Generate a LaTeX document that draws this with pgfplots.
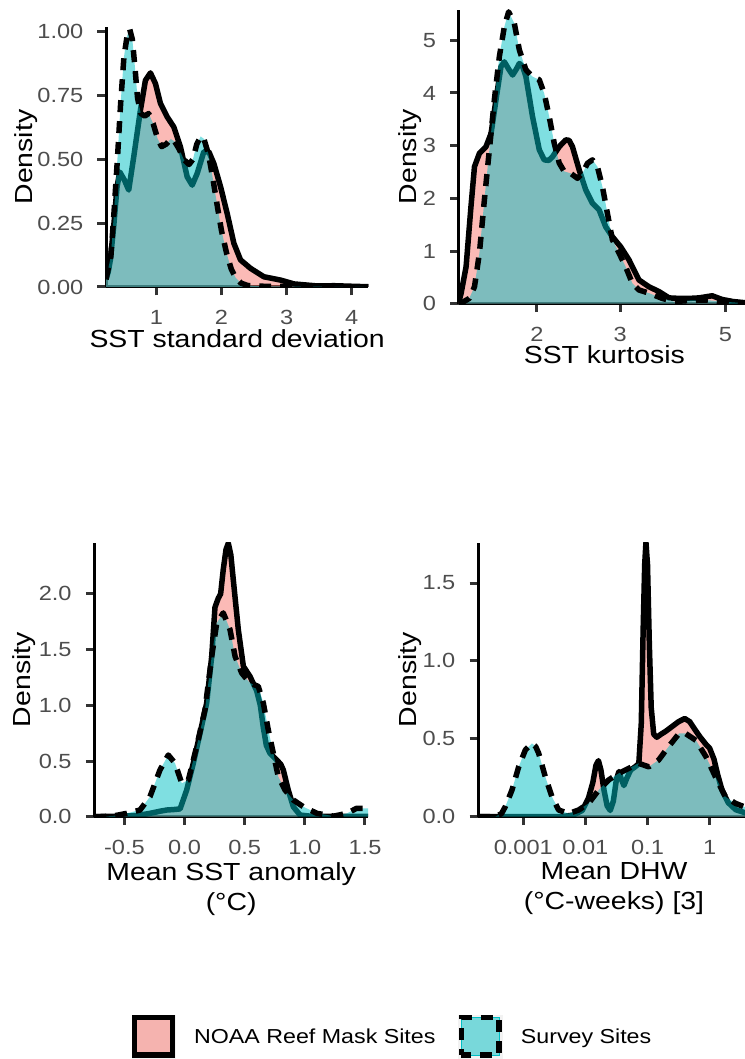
\documentclass[border=0pt]{standalone}
\usepackage{pgfplots}
\pgfplotsset{compat=1.18}
\usepackage{fontspec}
\setmainfont{Liberation Sans}[FakeStretch=1.15]
\definecolor{pinkc}{HTML}{F8766D}
\definecolor{cyanc}{HTML}{00BFC4}
\definecolor{gray30}{HTML}{4D4D4D}
\definecolor{gray20}{HTML}{333333}
\definecolor{gray95}{HTML}{F2F2F2}
\newcommand{\ttl}{\fontsize{24.7pt}{30pt}\selectfont}
\newcommand{\tck}{\fontsize{20.5pt}{24.5pt}\selectfont}

\pgfplotsset{
 dens/.style={
   scale only axis, clip=true,
   axis x line*=bottom, axis y line*=left,
   tick align=outside, major tick length=8.5pt,
   xtick style={draw=gray20, line width=3pt},
   ytick style={draw=gray20, line width=3pt},
   axis line style={line width=3pt, -, black},
   minor tick num=0,
   xticklabel style={font=\tck, text=gray30, anchor=base, inner sep=0pt, yshift=-29pt},
   yticklabel style={font=\tck, text=gray30, anchor=east, inner sep=0pt, xshift=-14pt},
   xlabel style={at={(axis description cs:0.5,0)}, anchor=north, inner sep=0pt, font=\ttl, align=center},
   every axis y label/.style={rotate=90, anchor=base, inner sep=0pt, font=\ttl},
   ylabel=Density,
 },
 noaafill/.style={fill=pinkc, fill opacity=0.5, draw=none, forget plot},
 noaaline/.style={black, line width=5.5pt, line join=round, forget plot},
 survfill/.style={fill=cyanc, fill opacity=0.5, draw=none, forget plot},
 survline/.style={black, line width=5.5pt, line join=round, dash pattern=on 12pt off 9pt, forget plot},
}

\pgfplotstableread{
x y
0.225 0.03
0.26 0.06
0.292 0.106
0.343 0.236
0.395 0.393
0.436 0.451
0.508 0.419
0.574 0.380
0.651 0.51
0.754 0.693
0.831 0.81
0.908 0.839
0.985 0.797
1.062 0.719
1.164 0.667
1.267 0.627
1.369 0.549
1.472 0.432
1.549 0.399
1.626 0.445
1.728 0.53
1.805 0.53
1.882 0.484
1.985 0.393
2.087 0.288
2.19 0.171
2.292 0.106
2.446 0.073
2.651 0.04
2.908 0.027
3.113 0.012
3.47 0.004
3.73 0.005
3.98 0.003
4.255 0.001
}\sdNoaa

\pgfplotstableread{
x y
0.225 0.03
0.30 0.12
0.35 0.30
0.40 0.50
0.45 0.72
0.50 0.90
0.55 0.985
0.59 1.01
0.63 0.97
0.67 0.86
0.71 0.74
0.76 0.68
0.82 0.67
0.88 0.68
0.95 0.64
1.02 0.58
1.08 0.55
1.15 0.56
1.22 0.58
1.28 0.57
1.35 0.54
1.42 0.50
1.50 0.48
1.56 0.50
1.62 0.56
1.68 0.59
1.73 0.58
1.80 0.52
1.87 0.42
1.94 0.31
2.00 0.22
2.08 0.13
2.15 0.07
2.22 0.035
2.30 0.015
2.40 0.006
2.60 0.003
3.00 0.002
3.50 0.001
4.255 0.0005
}\sdSurv

\pgfplotstableread{
x y
1.368 0.02
1.384 0.197
1.418 0.70
1.452 1.84
1.477 2.60
1.513 2.855
1.562 2.98
1.601 3.23
1.640 3.87
1.680 4.50
1.708 4.59
1.745 4.45
1.778 4.34
1.810 4.45
1.837 4.56
1.867 4.50
1.897 4.31
1.959 3.55
2.024 2.92
2.073 2.73
2.120 2.72
2.159 2.79
2.230 2.98
2.302 3.11
2.340 3.10
2.378 2.98
2.457 2.54
2.537 2.16
2.621 1.905
2.707 1.78
2.795 1.46
2.888 1.27
3.006 1.08
3.131 0.83
3.286 0.45
3.451 0.32
3.622 0.23
3.802 0.11
4.000 0.10
4.188 0.10
4.400 0.11
4.540 0.13
4.690 0.15
4.922 0.08
5.200 0.04
5.48 0.02
5.637 0.01
}\kuNoaa

\pgfplotstableread{
x y
1.368 0.0
1.39 0.02
1.44 0.10
1.477 0.32
1.513 0.96
1.550 1.97
1.588 2.92
1.627 3.87
1.667 4.69
1.708 5.26
1.744 5.54
1.793 5.32
1.837 4.82
1.897 4.44
1.959 4.31
2.024 4.25
2.073 3.99
2.124 3.55
2.177 3.04
2.230 2.67
2.285 2.51
2.358 2.475
2.436 2.38
2.497 2.475
2.558 2.665
2.621 2.73
2.685 2.60
2.751 2.22
2.818 1.72
2.888 1.21
2.983 0.96
3.080 0.70
3.181 0.39
3.286 0.26
3.451 0.20
3.68 0.10
3.90 0.04
4.19 0.06
4.54 0.07
4.92 0.04
5.48 0.01
5.637 0.005
}\kuSurv

\pgfplotstableread{
x y
-0.75 0.0
-0.60 0.003
-0.508 0.005
-0.40 0.01
-0.287 0.03
-0.20 0.05
-0.148 0.06
-0.08 0.065
-0.037 0.07
0.018 0.24
0.073 0.48
0.129 0.75
0.184 1.02
0.226 1.44
0.253 1.88
0.280 1.96
0.300 2.00
0.322 2.22
0.345 2.40
0.364 2.455
0.385 2.35
0.405 2.13
0.447 1.68
0.489 1.35
0.544 1.26
0.60 1.13
0.63 1.00
0.655 0.80
0.68 0.64
0.71 0.57
0.766 0.51
0.800 0.47
0.821 0.42
0.862 0.24
0.904 0.09
0.96 0.015
1.05 0.004
1.2 0.002
1.4 0.002
1.525 0.002
}\anNoaa

\pgfplotstableread{
x y
-0.75 0.0
-0.60 0.005
-0.48 0.03
-0.37 0.06
-0.287 0.18
-0.204 0.42
-0.135 0.554
-0.079 0.48
-0.023 0.30
0.032 0.33
0.101 0.63
0.17 0.96
0.226 1.44
0.268 1.74
0.322 1.83
0.378 1.68
0.42 1.44
0.475 1.29
0.544 1.20
0.613 1.17
0.655 1.02
0.696 0.78
0.738 0.57
0.779 0.36
0.835 0.24
0.904 0.15
0.987 0.09
1.10 0.03
1.24 0.005
1.35 0.03
1.43 0.075
1.525 0.075
}\anSurv

\pgfplotstableread{
x y
-3.729 0.0
-3.0 0.0
-2.4 0.0
-2.2 0.01
-2.05 0.04
-1.95 0.12
-1.88 0.22
-1.83 0.33
-1.79 0.36
-1.75 0.30
-1.70 0.17
-1.65 0.07
-1.60 0.04
-1.55 0.10
-1.50 0.24
-1.46 0.29
-1.42 0.24
-1.38 0.20
-1.33 0.25
-1.27 0.30
-1.20 0.32
-1.14 0.34
-1.10 0.60
-1.07 1.20
-1.045 1.62
-1.025 1.76
-1.00 1.62
-0.97 1.10
-0.94 0.70
-0.90 0.53
-0.85 0.51
-0.78 0.53
-0.70 0.55
-0.60 0.58
-0.50 0.61
-0.40 0.63
-0.32 0.61
-0.22 0.55
-0.15 0.51
-0.05 0.46
0.00 0.44
0.07 0.37
0.13 0.27
0.20 0.17
0.30 0.09
0.42 0.045
0.65 0.015
}\dhNoaa

\pgfplotstableread{
x y
-3.729 0.0
-3.45 0.0
-3.35 0.02
-3.29 0.064
-3.182 0.171
-3.074 0.32
-2.967 0.428
-2.86 0.471
-2.80 0.45
-2.752 0.407
-2.646 0.257
-2.538 0.128
-2.43 0.043
-2.27 0.02
-2.108 0.043
-1.947 0.086
-1.786 0.171
-1.625 0.236
-1.464 0.278
-1.303 0.31
-1.143 0.343
-0.98 0.32
-0.82 0.364
-0.66 0.45
-0.49 0.535
-0.391 0.535
-0.22 0.49
-0.058 0.385
0.093 0.257
0.255 0.128
0.415 0.086
0.555 0.064
0.65 0.05
}\dhSurv

\begin{document}
\begin{tikzpicture}
\path[use as bounding box] (0,0) rectangle (744pt,1059pt);

% Panel 1
\begin{axis}[dens, at={(106pt,772pt)}, anchor=south west, width=262.3pt, height=260pt,
  xmin=0.225, xmax=4.255, ymin=0, ymax=1.019,
  xtick={1,2,3,4}, xticklabels={1,2,3,4},
  ytick={0,0.25,0.5,0.75,1}, yticklabels={0.00,0.25,0.50,0.75,1.00},
  xlabel={SST standard deviation}, xlabel style={yshift=-42pt},
  ylabel style={at={([xshift=-73.3pt]axis description cs:0,0.5)}}]
\addplot[noaafill] table {\sdNoaa} \closedcycle;
\addplot[noaaline] table {\sdNoaa};
\addplot[survfill] table {\sdSurv} \closedcycle;
\addplot[survline] table {\sdSurv};
\end{axis}

% Panel 2
\begin{axis}[dens, at={(458.7pt,755.3pt)}, anchor=south west, width=291.3pt, height=293.7pt,
  xmode=log, xmin=1.368, xmax=5.637, ymin=0, ymax=5.575, xminorticks=false,
  xtick={2,3,5}, xticklabels={2,3,5},
  ytick={0,1,2,3,4,5}, yticklabels={0,1,2,3,4,5},
  xlabel={SST kurtosis}, xlabel style={yshift=-42pt},
  ylabel style={at={([xshift=-42.3pt]axis description cs:0,0.5)}}]
\addplot[noaafill] table {\kuNoaa} \closedcycle;
\addplot[noaaline] table {\kuNoaa};
\addplot[survfill] table {\kuSurv} \closedcycle;
\addplot[survline] table {\kuSurv};
\end{axis}

% Panel 3
\begin{axis}[dens, at={(94.3pt,242.3pt)}, anchor=south west, width=273.7pt, height=274pt,
  xmin=-0.75, xmax=1.525, ymin=0, ymax=2.46,
  xtick={-0.5,0,0.5,1,1.5}, xticklabels={-0.5,0.0,0.5,1.0,1.5},
  ytick={0,0.5,1,1.5,2}, yticklabels={0.0,0.5,1.0,1.5,2.0},
  xlabel={Mean SST anomaly\\(°C)}, xlabel style={yshift=-45.3pt},
  ylabel style={at={([xshift=-63.3pt]axis description cs:0,0.5)}},
  legend columns=2,
  legend style={at={(axis description cs:0.1366,-0.802)}, anchor=west, draw=none, fill=none,
    inner sep=0pt, outer sep=0pt, font=\fontsize{20.2pt}{24pt}\selectfont, column sep=16.7pt,
    /tikz/every even column/.append style={column sep=21pt}},
  legend cell align=left]
\addplot[noaafill] table {\anNoaa} \closedcycle;
\addplot[noaaline] table {\anNoaa};
\addplot[survfill] table {\anSurv} \closedcycle;
\addplot[survline] table {\anSurv};
\addlegendimage{legend image code/.code={
  \fill[gray95] (0pt,-21.5pt) rectangle (43.3pt,21.5pt);
  \fill[pinkc, fill opacity=0.5] (2.75pt,-18.75pt) rectangle (40.55pt,18.75pt);
  \draw[black, line width=5.5pt] (2.75pt,-18.75pt) rectangle (40.55pt,18.75pt);
}}
\addlegendentry{NOAA Reef Mask Sites}
\addlegendimage{legend image code/.code={
  \fill[gray95] (0pt,-21.5pt) rectangle (43.3pt,21.5pt);
  \fill[cyanc, fill opacity=0.5] (2.75pt,-18.75pt) rectangle (40.55pt,18.75pt);
  \draw[black, line width=5.5pt, dash pattern=on 12pt off 9pt, dash phase=6pt] (2.75pt,-18.75pt) rectangle (40.55pt,18.75pt);
}}
\addlegendentry{Survey Sites}
\end{axis}

% Panel 4
\begin{axis}[dens, at={(478pt,242.3pt)}, anchor=south west, width=272pt, height=274pt,
  xmin=-3.729, xmax=0.6506, ymin=0, ymax=1.759,
  xtick={-3,-2,-1,0}, xticklabels={0.001,0.01,0.1,1},
  ytick={0,0.5,1,1.5}, yticklabels={0.0,0.5,1.0,1.5},
  xlabel={Mean DHW\\(°C-weeks) [3]}, xlabel style={yshift=-45.3pt},
  ylabel style={at={([xshift=-61.6pt]axis description cs:0,0.5)}}]
\addplot[noaafill] table {\dhNoaa} \closedcycle;
\addplot[noaaline] table {\dhNoaa};
\addplot[survfill] table {\dhSurv} \closedcycle;
\addplot[survline] table {\dhSurv};
\end{axis}
\end{tikzpicture}
\end{document}
